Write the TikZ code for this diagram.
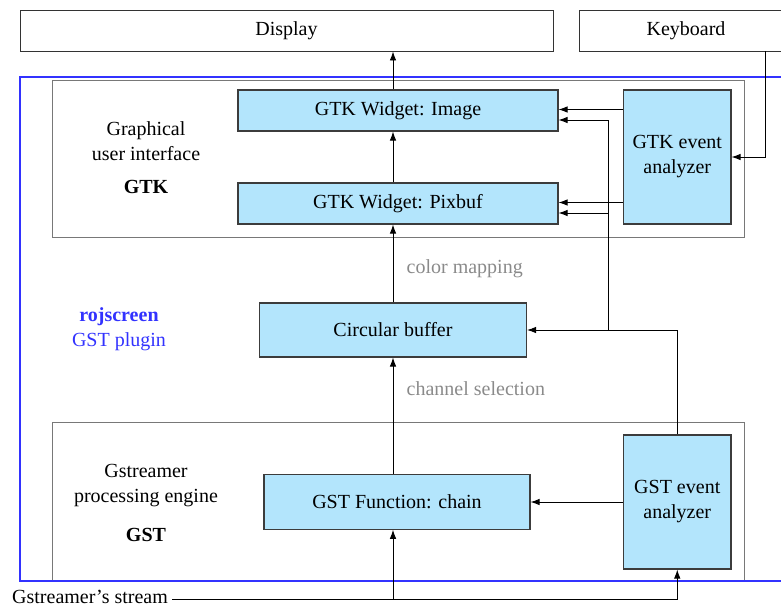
\documentclass[tikz,border=0pt]{standalone}
\usepackage{fontspec}
\setmainfont{Liberation Serif}
\usetikzlibrary{arrows.meta,calc}
\definecolor{boxfill}{RGB}{179,229,252}
\definecolor{boxline}{RGB}{60,60,60}
\definecolor{frameblue}{RGB}{50,50,255}
\definecolor{graybox}{RGB}{120,120,120}
\definecolor{labelgray}{RGB}{138,138,138}
\tikzset{
  every node/.style={font=\fontsize{20}{25}\selectfont, inner sep=0pt},
  plainbox/.style={draw=black!80, line width=0.9pt, fill=white},
  bluebox/.style={draw=boxline, line width=1.1pt, fill=boxfill, align=center},
  arr/.style={-{Latex[length=9pt,width=6.5pt]}, line width=0.9pt, black},
  ln/.style={line width=0.9pt, black},
  grouplbl/.style={align=center},
  gray label/.style={text=labelgray, anchor=west},
}
\begin{document}
\begin{tikzpicture}[x=1pt,y=-1pt]
\useasboundingbox (0,0) rectangle (781,608);
\clip (0,0) rectangle (781,608);
% group frames
\draw[frameblue, line width=1.2pt] (20,77) rectangle (820,581);
\draw[graybox, line width=0.9pt] (52,80) rectangle (744,237);
\draw[graybox, line width=0.9pt] (52,422.5) rectangle (744,581);
\draw[frameblue, line width=1.2pt] (20,581) -- (820,581);
% top boxes
\node[plainbox, minimum width=533pt, minimum height=41pt] (disp) at (286.5,30.5) {Display};
\node[plainbox, minimum width=214pt, minimum height=41pt] (kbd) at (686,30.5) {Keyboard};
% GTK boxes
\node[bluebox, minimum width=320pt, minimum height=41pt] (img) at (398,110.5) {GTK Widget: Image};
\node[bluebox, minimum width=320pt, minimum height=41pt] (pix) at (398,203.5) {GTK Widget: Pixbuf};
\node[bluebox, minimum width=107.5pt, minimum height=134pt] (gtkev) at (677.25,157) {GTK event\\analyzer};
% middle
\node[bluebox, minimum width=267pt, minimum height=54pt] (circ) at (393,330) {Circular buffer};
% GST boxes
\node[bluebox, minimum width=266pt, minimum height=54.5pt] (gstf) at (397,502) {GST Function: chain};
\node[bluebox, minimum width=107.5pt, minimum height=134pt] (gstev) at (677.25,502) {GST event\\analyzer};
% labels
\node[grouplbl] (gtklbl) at (146,141.5) {Graphical\\user interface};
\node[font=\fontsize{20}{25}\selectfont\bfseries] (gtkname) at (146,187) {GTK};
\node[text=frameblue, align=center] (plug) at (119,329) {\textbf{rojscreen}\\GST plugin};
\node[grouplbl] (gstlbl) at (146,485.5) {Gstreamer\\processing engine};
\node[font=\fontsize{20}{25}\selectfont\bfseries] (gstname) at (146,535) {GST};
\node[gray label] (cmap) at (406.5,269) {color mapping};
\node[gray label] (csel) at (406.5,389) {channel selection};
\node[anchor=west] (stream) at (12,597) {Gstreamer’s stream};
% helper coordinates
\coordinate (mainx) at (393,0);
\coordinate (kbdx) at (765.5,0);
\coordinate (busx) at (608,0);
\coordinate (evx) at (677.25,0);
\coordinate (streamy) at (0,599.5);
% main data path
\draw[ln] (stream.east |- streamy) ++(4,0) -- (streamy -| evx);
\draw[arr] (streamy -| evx) -- (gstev.south);
\draw[arr] (streamy -| mainx) -- (gstf.south -| mainx);
\draw[arr] (gstf.north -| mainx) -- (circ.south -| mainx);
\draw[arr] (circ.north -| mainx) -- (pix.south -| mainx);
\draw[arr] (pix.north -| mainx) -- (img.south -| mainx);
\draw[arr] (img.north -| mainx) -- (disp.south -| mainx);
% GST event analyzer
\draw[arr] (gstev.west) -- (gstev.west -| gstf.east);
\draw[arr] (gstev.north) -- (circ.east -| gstev.north) -- (circ.east);
\draw[ln] (circ.east -| busx) -- ($(img.east -| busx)+(0,9.5)$);
\draw[arr] ($(img.east -| busx)+(0,9.5)$) -- ($(img.east)+(0,9.5)$);
\draw[arr] ($(pix.east -| busx)+(0,9.5)$) -- ($(pix.east)+(0,9.5)$);
% GTK event analyzer
\draw[arr] ($(gtkev.west |- img.east)+(0,-1)$) -- ($(img.east)+(0,-1)$);
\draw[arr] ($(gtkev.west |- pix.east)+(0,-1)$) -- ($(pix.east)+(0,-1)$);
% keyboard
\draw[arr] (kbd.south -| kbdx) -- (gtkev.east -| kbdx) -- (gtkev.east);
\end{tikzpicture}
\end{document}
